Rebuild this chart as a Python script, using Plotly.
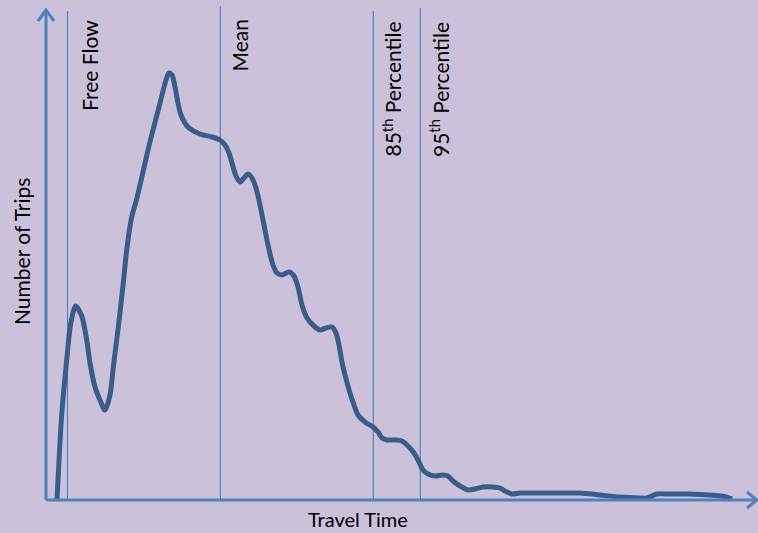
import plotly.graph_objects as go

# Travel time (arbitrary units) and number of trips
travel_time = [1.1, 1.57, 2.07, 2.5, 2.97, 3.57, 4.07, 4.4, 4.9, 5.4, 5.9, 6.4, 6.73, 7.23,
               7.73, 8.07, 8.57, 9.07, 9.7, 10.2, 10.7, 11.2, 11.6, 12.0, 12.3, 12.6, 12.9, 13.2,
               13.5, 14.2, 15.4, 16.6, 17.4, 17.9, 18.3, 18.6, 19.0, 19.4, 19.8, 20.2, 20.6, 21.0,
               21.4, 21.8, 22.2, 22.7, 23.1, 23.6, 24.3, 24.8, 25.2, 25.6, 26.1, 26.8, 27.4, 28.0,
               28.6, 29.0, 29.3, 29.6, 29.9, 30.4, 30.8, 31.2, 31.9, 32.7, 33.2, 33.6, 34.1, 34.9,
               35.6, 36.2, 36.8, 37.3, 37.7, 38.2, 38.9, 39.7, 40.2, 40.7, 41.4, 42.2, 42.9, 43.7,
               44.7, 45.4, 45.9, 46.6, 47.4, 48.9, 51.4, 53.4, 55.4, 57.4, 59.4, 60.1, 60.6, 61.1,
               62.4, 64.4, 66.4, 67.6, 68.6]
trips = [0, 85, 140, 178, 194, 184, 160, 137, 113, 100, 90, 105, 133, 173,
         217, 250, 283, 301, 328, 350, 370, 389, 405, 420, 427, 425, 413, 397,
         385, 373, 366, 363, 360, 355, 347, 337, 324, 318, 322, 326, 322, 312,
         295, 275, 255, 235, 227, 225, 228, 224, 213, 195, 182, 174, 170, 172,
         173, 167, 155, 138, 125, 107, 95, 85, 78, 73, 68, 62, 60, 60,
         59, 54, 47, 38, 30, 26, 24, 25, 24, 19, 14, 10, 11, 13,
         13, 12, 9, 6, 7, 7, 7, 7, 5, 3, 2, 2, 4, 6,
         6, 6, 5, 4, 1]

# Reference lines: label, position on travel-time axis, top of line
marker_labels = ["Free Flow", "Mean", "85<sup>th</sup> Percentile", "95<sup>th</sup> Percentile"]
marker_x = [2.15, 17.43, 32.73, 37.43]
marker_top = [489, 494, 489, 492]
label_x = [4.35, 19.25, 34.5, 39.25]
label_top = [482, 482, 480, 480]

x_axis_end = 71.1
y_axis_end = 490

BG = "#CCC1DA"
AXIS = "#4F81BD"
CURVE = "#385D8A"
FONT = "Lato"
FS = 21

fig = go.Figure()

fig.add_trace(go.Scatter(
    x=travel_time, y=trips, mode="lines",
    line=dict(color=CURVE, width=5, shape="spline", smoothing=0.8),
    hoverinfo="skip", showlegend=False,
))

shapes = []
for mx, mt in zip(marker_x, marker_top):
    shapes.append(dict(type="line", x0=mx, x1=mx, y0=0, y1=mt, xref="x", yref="y",
                       line=dict(color=AXIS, width=1.2), layer="below"))

# axes with open arrowheads
shapes.append(dict(type="line", x0=0, x1=x_axis_end, y0=0, y1=0, xref="x", yref="y",
                   line=dict(color=AXIS, width=3)))
shapes.append(dict(type="line", x0=0, x1=0, y0=0, y1=y_axis_end, xref="x", yref="y",
                   line=dict(color=AXIS, width=3)))
shapes.append(dict(type="path",
                   path=f"M {x_axis_end-1.0},8 L {x_axis_end},0 L {x_axis_end-1.0},-8",
                   xref="x", yref="y", line=dict(color=AXIS, width=3)))
shapes.append(dict(type="path",
                   path=f"M -0.8,{y_axis_end-11} L 0,{y_axis_end} L 0.8,{y_axis_end-11}",
                   xref="x", yref="y", line=dict(color=AXIS, width=3)))

annotations = []
for lab, lx, lt in zip(marker_labels, label_x, label_top):
    annotations.append(dict(text=lab, x=lx, y=lt, xref="x", yref="y", textangle=-90,
                            xanchor="center", yanchor="top", showarrow=False,
                            font=dict(family=FONT, size=FS, color="#000000")))
annotations.append(dict(text="Number of Trips", x=-2.5, y=248, xref="x", yref="y", textangle=-90,
                        xanchor="center", yanchor="middle", showarrow=False,
                        font=dict(family=FONT, size=FS, color="#000000")))
annotations.append(dict(text="Travel Time", x=31.2, y=-19, xref="x", yref="y",
                        xanchor="center", yanchor="middle", showarrow=False,
                        font=dict(family=FONT, size=20, color="#000000")))

fig.update_layout(
    width=758, height=533,
    margin=dict(l=0, r=0, t=0, b=0),
    paper_bgcolor=BG, plot_bgcolor=BG,
    xaxis=dict(range=[-4.6, 71.2], visible=False, fixedrange=True),
    yaxis=dict(range=[-33, 500], visible=False, fixedrange=True),
    shapes=shapes, annotations=annotations,
    showlegend=False,
)

fig.write_html("out.html", config={"displayModeBar": False},
               post_script="document.body.style.margin='0';document.body.style.background='#CCC1DA';")
